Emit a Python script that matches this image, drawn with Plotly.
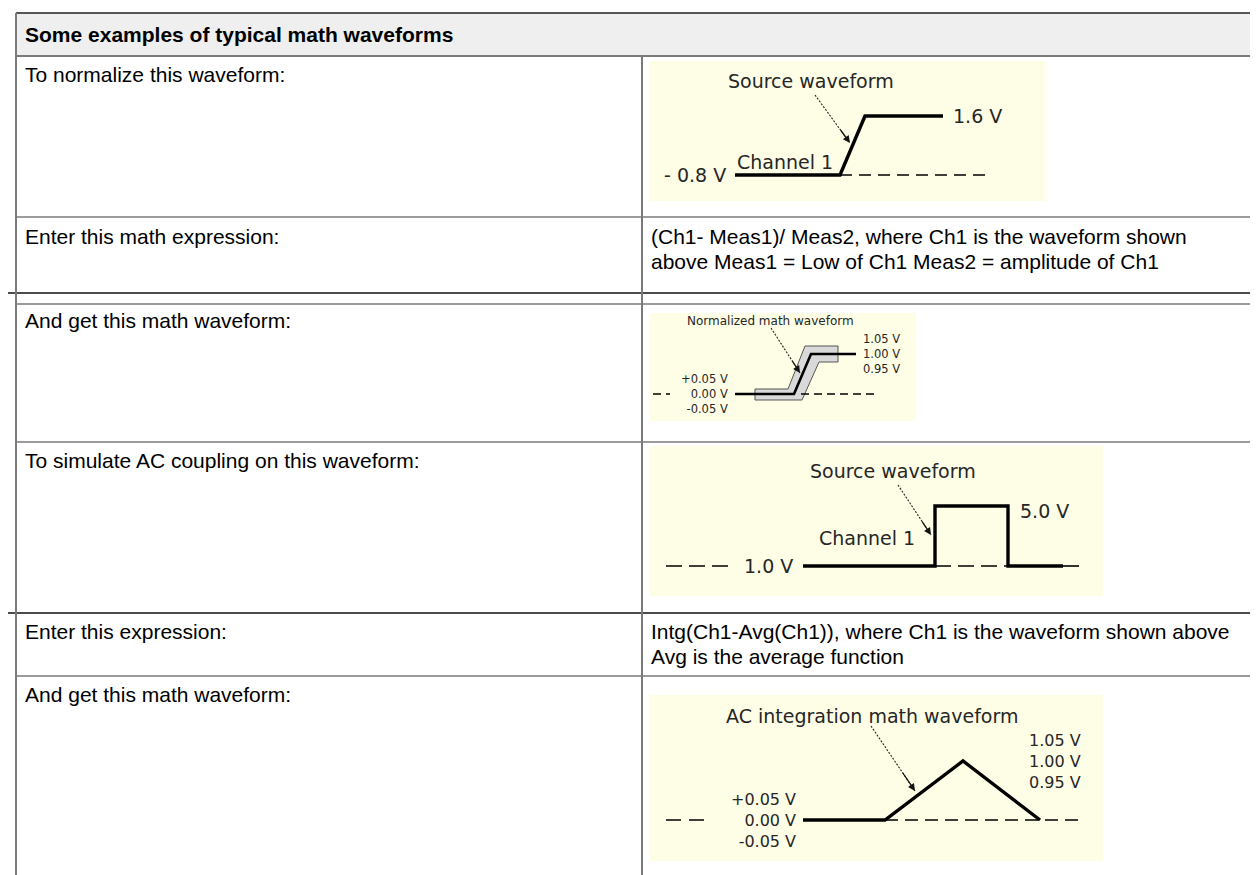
import plotly.graph_objects as go

W, H = 1258, 875

# ---------------- table text ----------------
header_text = "Some examples of typical math waveforms"
left_labels = [
    "To normalize this waveform:",
    "Enter this math expression:",
    "",
    "And get this math waveform:",
    "To simulate AC coupling on this waveform:",
    "Enter this expression:",
    "And get this math waveform:",
]
expr_normalize = ["(Ch1- Meas1)/ Meas2, where Ch1 is the waveform shown",
                  "above Meas1 = Low of Ch1 Meas2 = amplitude of Ch1"]
expr_ac = ["Intg(Ch1-Avg(Ch1)), where Ch1 is the waveform shown above",
           "Avg is the average function"]

# ---------------- waveform data (inset-local units) ----------------
# 1) source waveform to normalize
src1_t = [85, 190, 215, 293]
src1_v = [26, 26, 85, 85]
src1_ref_t = [190, 335]
src1_ref_v = [26, 26]
src1_pointer_t = [165, 200]
src1_pointer_v = [106, 58]

# 2) normalized math waveform with tolerance band
norm_t = [85, 144, 161, 206]
norm_v = [27, 27, 67, 67]
band_t = [105, 138, 155, 188, 188, 169, 152, 105, 105]
band_v = [32, 32, 75, 75, 59, 59, 21, 21, 32]
norm_ref_t = [151, 228]
norm_ref_v = [27, 27]
norm_lead_t = [3, 20]
norm_lead_v = [27, 27]
norm_pointer_t = [121, 150]
norm_pointer_v = [93, 48]
norm_levels_hi = ["1.05 V", "1.00 V", "0.95 V"]
norm_levels_lo = ["+0.05 V", "0.00 V", "-0.05 V"]

# 3) source pulse for AC coupling
pulse_t = [153, 285, 285, 358, 358, 413]
pulse_v = [30, 30, 90, 90, 30, 30]
pulse_ref_segments = [([16, 85], [30, 30]), ([285, 358], [30, 30]), ([413, 433], [30, 30])]
pulse_pointer_t = [248, 281]
pulse_pointer_v = [111, 61]

# 4) AC integration math waveform
integ_t = [153, 235, 313, 390]
integ_v = [41, 41, 100, 41]
integ_ref_t = [235, 435]
integ_ref_v = [41, 41]
integ_lead_t = [16, 58]
integ_lead_v = [41, 41]
integ_pointer_t = [221, 265]
integ_pointer_v = [135, 70]
integ_levels_hi = ["1.05 V", "1.00 V", "0.95 V"]
integ_levels_lo = ["+0.05 V", "0.00 V", "-0.05 V"]

# inset boxes in pixels: x0, x1, y0(top), y1(bottom)
boxes = [
    (642, 1037, 53, 193),
    (642, 908, 305, 413),
    (642, 1095, 438, 588),
    (642, 1095, 687, 853),
]

fig = go.Figure()
BLACK = "#000000"
TXT = "#262626"
FONT_IMG = "DejaVu Sans"


def ax_names(i):
    return ("x" if i == 0 else f"x{i+1}", "y" if i == 0 else f"y{i+1}")


def add_line(i, t, v, width=3, dash=None, color=BLACK, fill=None, fillcolor=None):
    xa, ya = ax_names(i)
    fig.add_trace(go.Scatter(x=t, y=v, mode="lines", xaxis=xa, yaxis=ya,
                             line=dict(color=color, width=width, dash=dash),
                             fill=fill, fillcolor=fillcolor,
                             hoverinfo="skip", showlegend=False))


annotations = []


def pointer(i, t, v):
    """dotted pointer shaft plus a short solid tip with arrowhead"""
    add_line(i, t, v, width=1.1, dash="2px,1.5px", color="#222222")
    xa, ya = ax_names(i)
    tx = t[1] - 0.3 * (t[1] - t[0])
    ty = v[1] - 0.3 * (v[1] - v[0])
    annotations.append(dict(x=t[1], y=v[1], ax=tx, ay=ty, xref=xa, yref=ya,
                            axref=xa, ayref=ya, text="", showarrow=True, arrowhead=2,
                            arrowsize=1.1, arrowwidth=1.3, arrowcolor="#111111", standoff=0))


# inset 1
add_line(0, src1_ref_t, src1_ref_v, width=1.6, dash="12px,7px")
add_line(0, src1_t, src1_v, width=3.4)
pointer(0, src1_pointer_t, src1_pointer_v)
# inset 2
add_line(1, band_t, band_v, width=1, color="#555555", fill="toself", fillcolor="#d9d9d9")
add_line(1, norm_ref_t, norm_ref_v, width=1.3, dash="8px,5px")
add_line(1, norm_lead_t, norm_lead_v, width=1.3, dash="8px,5px")
add_line(1, norm_t, norm_v, width=2.6)
pointer(1, norm_pointer_t, norm_pointer_v)
# inset 3
for seg_t, seg_v in pulse_ref_segments:
    add_line(2, seg_t, seg_v, width=1.6, dash="16px,7px")
add_line(2, pulse_t, pulse_v, width=3.4)
pointer(2, pulse_pointer_t, pulse_pointer_v)
# inset 4
add_line(3, integ_ref_t, integ_ref_v, width=1.6, dash="13px,7px")
add_line(3, integ_lead_t, integ_lead_v, width=1.6, dash="15px,8px")
add_line(3, integ_t, integ_v, width=3.4)
pointer(3, integ_pointer_t, integ_pointer_v)

# axes for insets
layout_axes = {}
for i, (x0, x1, y0, y1) in enumerate(boxes):
    xk = "xaxis" if i == 0 else f"xaxis{i+1}"
    yk = "yaxis" if i == 0 else f"yaxis{i+1}"
    layout_axes[xk] = dict(domain=[x0 / W, x1 / W], range=[0, x1 - x0], visible=False,
                           fixedrange=True, anchor=ax_names(i)[1])
    layout_axes[yk] = dict(domain=[1 - y1 / H, 1 - y0 / H], range=[0, y1 - y0], visible=False,
                           fixedrange=True, anchor=ax_names(i)[0])


def img_text(i, x, y, text, anchor="left", size=19):
    xa, ya = ax_names(i)
    annotations.append(dict(x=x, y=y, xref=xa, yref=ya, text=text, showarrow=False,
                            xanchor=anchor, yanchor="middle", align=anchor,
                            font=dict(family=FONT_IMG, size=size, color=TXT)))


# inset 1 labels
img_text(0, 161, 120, "Source waveform", "center")
img_text(0, 78, 26, "- 0.8 V", "right")
img_text(0, 301, 85, "1.6 V", "left")
img_text(0, 135, 39, "Channel 1", "center")
# inset 2 labels
img_text(1, 120, 100, "Normalized math waveform", "center", 12)
img_text(1, 211, 67, "<br>".join(norm_levels_hi), "left", 11.5)
img_text(1, 80, 27, "<br>".join(norm_levels_lo), "right", 11.5)
# inset 3 labels
img_text(2, 243, 125, "Source waveform", "center")
img_text(2, 145, 30, "1.0 V", "right")
img_text(2, 368, 85, "5.0 V", "left")
img_text(2, 217, 58, "Channel 1", "center")
# inset 4 labels
img_text(3, 222, 145, "AC integration math waveform", "center")
img_text(3, 433, 100, "<br>".join(integ_levels_hi), "right", 16)
img_text(3, 148, 41, "<br>".join(integ_levels_lo), "right", 16)

# ---------------- table grid ----------------
TFONT = "Liberation Sans, Arial, sans-serif"
TSIZE = 21
LEFT, DIV, RIGHT = 8, 634, 1258
TOP = 5
row_bounds = [48, 209, 285, 296, 434, 605, 668, 870]
row_text_y = [67, 228, None, 313, 452, 623, 686]

shapes = [dict(type="rect", xref="paper", yref="paper", x0=LEFT / W, x1=1, y0=1 - 48 / H,
               y1=1 - TOP / H, fillcolor="#efefef", line=dict(width=0), layer="below")]


def hline(y, color, width, x0=LEFT, x1=RIGHT):
    shapes.append(dict(type="line", xref="paper", yref="paper", x0=x0 / W, x1=x1 / W,
                       y0=1 - y / H, y1=1 - y / H, line=dict(color=color, width=width)))


def vline(x, y0, y1, color, width):
    shapes.append(dict(type="line", xref="paper", yref="paper", x0=x / W, x1=x / W,
                       y0=1 - y0 / H, y1=1 - y1 / H, line=dict(color=color, width=width)))


hline(TOP, "#222222", 1.5)
hline(48, "#7a7a7a", 2)
for y in row_bounds[1:]:
    if y in (285, 605):
        hline(y, "#111111", 1.3, x0=0)
    else:
        hline(y, "#7a7a7a", 1.6)
vline(LEFT, TOP, 870, "#7a7a7a", 2)
vline(DIV, 48, 870, "#7a7a7a", 2)


def cell_text(x, y, text, bold=False):
    annotations.append(dict(x=x / W, y=1 - y / H, xref="paper", yref="paper",
                            text=f"<b>{text}</b>" if bold else text, showarrow=False,
                            xanchor="left", yanchor="middle",
                            font=dict(family=TFONT, size=TSIZE, color="#000000")))


cell_text(15, 27, header_text, bold=True)
for lbl, ty in zip(left_labels, row_text_y):
    if lbl:
        cell_text(15, ty, lbl)
cell_text(641, 228, expr_normalize[0])
cell_text(641, 253, expr_normalize[1])
cell_text(641, 623, expr_ac[0])
cell_text(641, 648, expr_ac[1])

fig.update_layout(
    width=W, height=H, margin=dict(l=0, r=0, t=0, b=0),
    paper_bgcolor="#ffffff", plot_bgcolor="#fefee6",
    showlegend=False, shapes=shapes, annotations=annotations,
    **layout_axes,
)

fig.write_html("out.html")
